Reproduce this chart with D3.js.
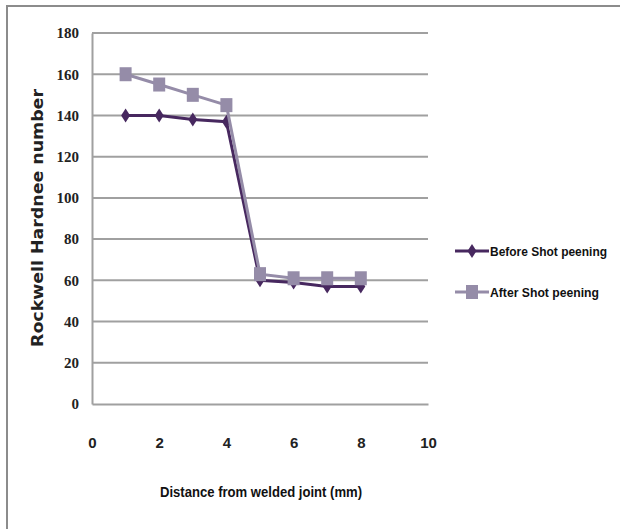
<!DOCTYPE html>
<html><head><meta charset="utf-8">
<script src="https://cdn.jsdelivr.net/npm/d3@7"></script>
<style>body{margin:0;background:#fff}svg{display:block}</style>
</head><body>
<svg id="c" width="620" height="529"></svg>
<script>
const xValues = [1, 2, 3, 4, 5, 6, 7, 8];
const beforeValues = [140, 140, 138, 137, 60, 59, 57, 57];
const afterValues = [160, 155, 150, 145, 63, 61, 61, 61];
const seriesNames = ["Before Shot peening", "After Shot peening"];
const xTicks = [0, 2, 4, 6, 8, 10];
const yTicks = [0, 20, 40, 60, 80, 100, 120, 140, 160, 180];
const xTitle = "Distance from welded joint (mm)";
const yTitle = "Rockwell Hardnee number";

const svg = d3.select("#c");
const L = 92, R = 428, T = 33, B = 404;
const x = d3.scaleLinear().domain([0, 10]).range([L, R]);
const y = d3.scaleLinear().domain([0, 180]).range([B, T]);

// outer border
svg.append("path").attr("d", "M7,529 V6 H620").attr("fill", "none")
  .attr("stroke", "#8c8c8c").attr("stroke-width", 2);

// gridlines
svg.append("g").selectAll("line").data(yTicks.filter(d => d > 0)).join("line")
  .attr("x1", L).attr("x2", R).attr("y1", d => y(d)).attr("y2", d => y(d))
  .attr("stroke", "#a0a0a0").attr("stroke-width", 2);

// axes
const yAxis = svg.append("g").attr("transform", `translate(${L},0)`)
  .call(d3.axisLeft(y).tickValues(yTicks).tickSize(0).tickPadding(13));
yAxis.select(".domain").attr("stroke", "#a0a0a0").attr("stroke-width", 2);
yAxis.selectAll("text").attr("font-family", "'Liberation Serif', serif").attr("font-weight", "bold")
  .attr("font-size", 15).attr("fill", "#222");

const xAxis = svg.append("g").attr("transform", `translate(0,${B})`)
  .call(d3.axisBottom(x).tickValues(xTicks).tickSize(0).tickPadding(33));
xAxis.select(".domain").attr("stroke", "#a0a0a0").attr("stroke-width", 2);
xAxis.selectAll("text").attr("font-family", "'Liberation Sans Narrow', 'Liberation Sans', sans-serif")
  .attr("font-weight", "bold").attr("font-size", 15).attr("fill", "#222");

// titles
svg.append("text").attr("transform", "translate(43,218) rotate(-90)")
  .attr("text-anchor", "middle").attr("font-family", "'DejaVu Sans', sans-serif")
  .attr("font-weight", "bold").attr("font-size", 15).attr("fill", "#222")
  .attr("textLength", 258).attr("lengthAdjust", "spacingAndGlyphs").text(yTitle);
svg.append("text").attr("x", 261).attr("y", 497).attr("text-anchor", "middle")
  .attr("font-family", "'Liberation Sans Narrow', 'Liberation Sans', sans-serif")
  .attr("font-weight", "bold").attr("font-size", 15).attr("fill", "#111")
  .attr("textLength", 202).attr("lengthAdjust", "spacingAndGlyphs").text(xTitle);

const colors = ["#47285f", "#958ca8"];
const series = [beforeValues, afterValues];
const line = d3.line().x(d => x(d[0])).y(d => y(d[1]));

function drawMarker(g, i, cx, cy) {
  if (i === 0) {
    g.append("path").attr("d", `M${cx},${cy-7} L${cx+4.5},${cy} L${cx},${cy+7} L${cx-4.5},${cy} Z`)
      .attr("fill", colors[0]);
  } else {
    g.append("rect").attr("x", cx - 6).attr("y", cy - 7).attr("width", 12).attr("height", 14)
      .attr("fill", colors[1]);
  }
}

[0, 1].forEach(i => {
  const pts = xValues.map((xv, k) => [xv, series[i][k]]);
  const g = svg.append("g");
  g.append("path").attr("d", line(pts)).attr("fill", "none")
    .attr("stroke", colors[i]).attr("stroke-width", 3);
  pts.forEach(p => drawMarker(g, i, x(p[0]), y(p[1])));
});

// legend
const legY = [251, 292];
seriesNames.forEach((name, i) => {
  const g = svg.append("g");
  g.append("line").attr("x1", 455).attr("x2", 489).attr("y1", legY[i]).attr("y2", legY[i])
    .attr("stroke", colors[i]).attr("stroke-width", 3);
  drawMarker(g, i, 472, legY[i]);
  g.append("text").attr("x", 490).attr("y", legY[i] + 5)
    .attr("font-family", "'Liberation Sans Narrow', 'Liberation Sans', sans-serif")
    .attr("font-size", 13).attr("font-weight", 600).attr("fill", "#111")
    .attr("textLength", i === 0 ? 117 : 109).attr("lengthAdjust", "spacingAndGlyphs").text(name);
});
</script>
</body></html>
